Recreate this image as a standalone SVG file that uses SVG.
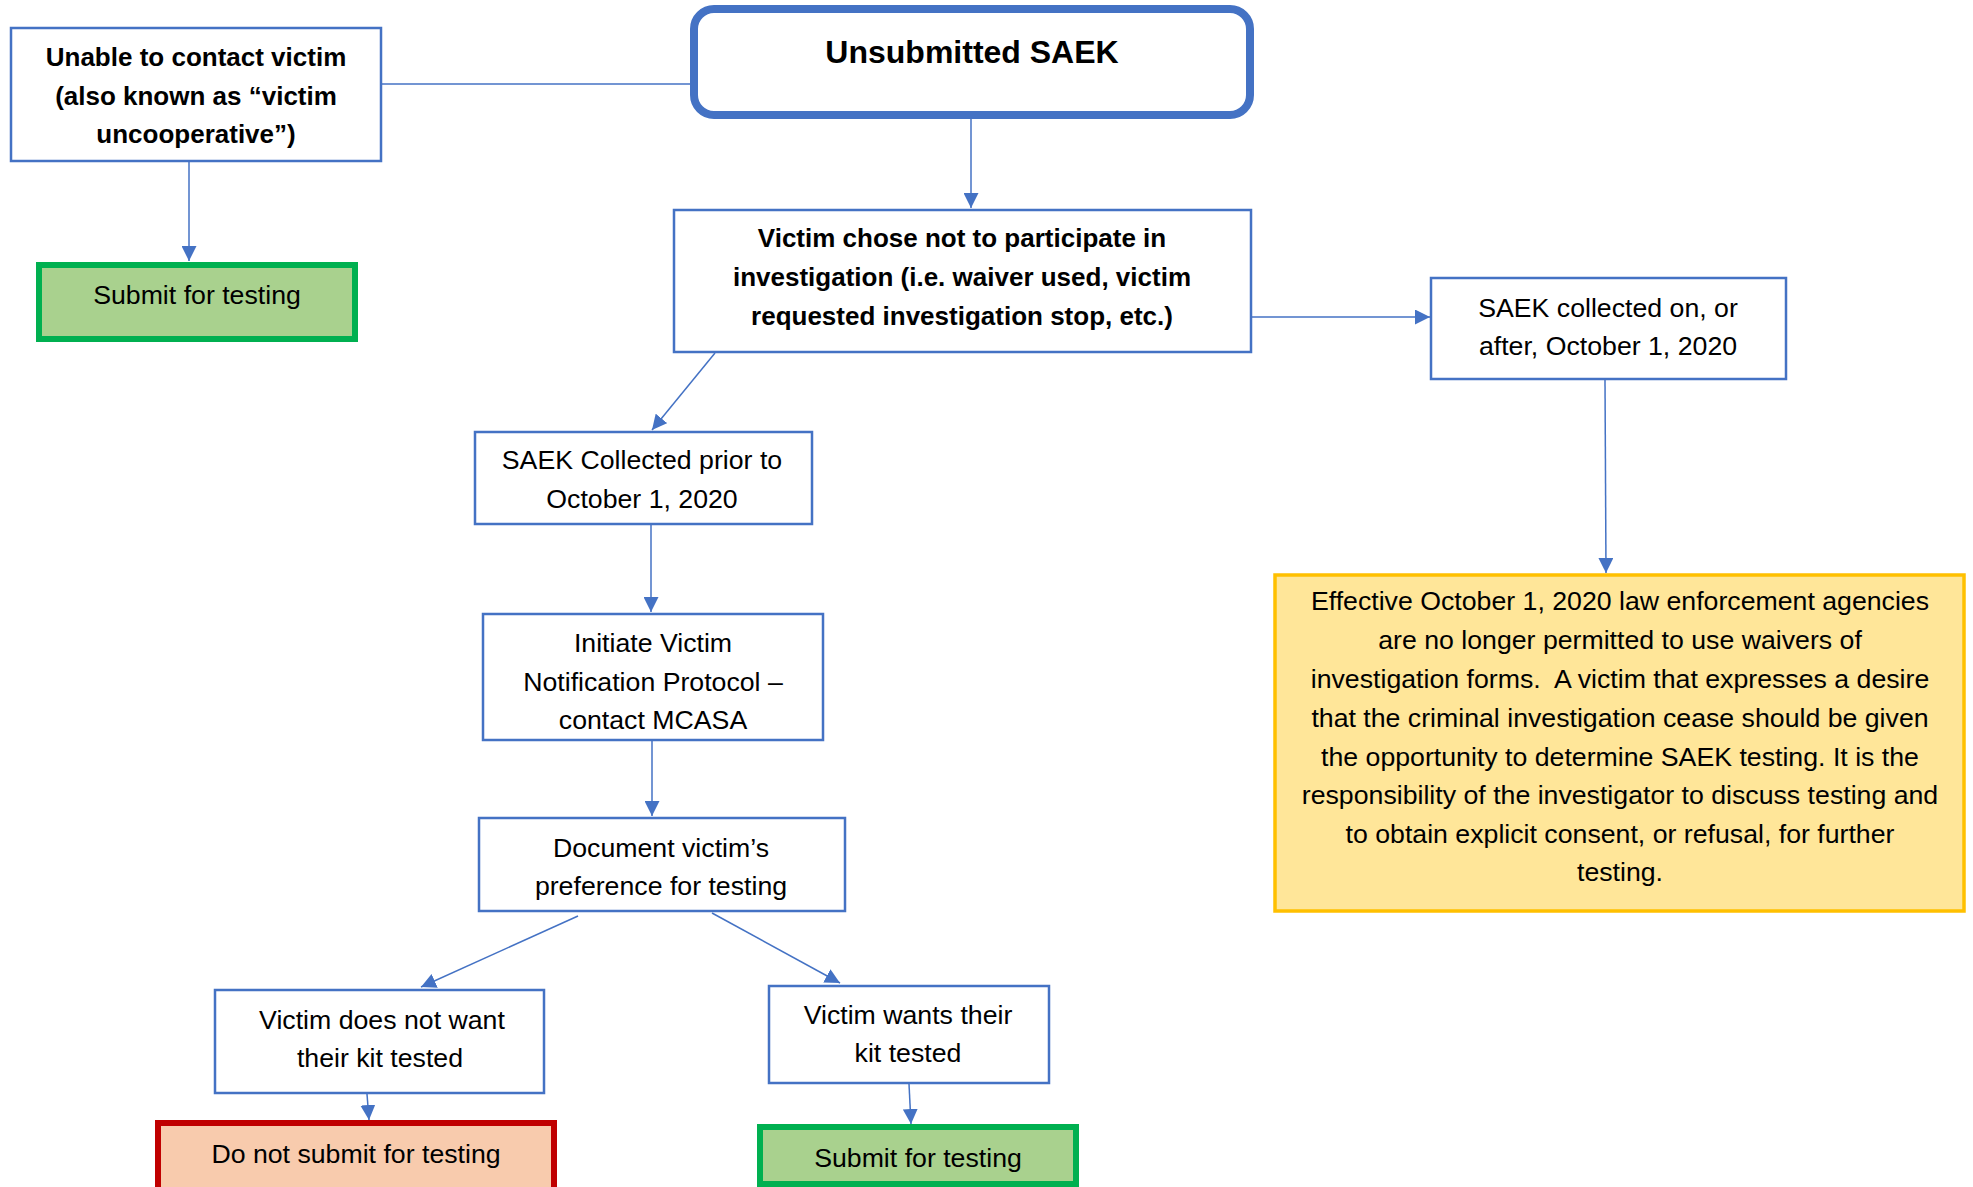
<svg xmlns="http://www.w3.org/2000/svg" width="1973" height="1187" viewBox="0 0 1973 1187">
<style>
.box{fill:#FFFFFF;stroke:#4472C4;stroke-width:2.5}
.green{fill:#A9D18E;stroke:#00B050;stroke-width:6}
.red{fill:#F8CBAD;stroke:#C00000;stroke-width:6}
.yellow{fill:#FFE699;stroke:#FFC000;stroke-width:3.5}
.title{fill:#FFFFFF;stroke:#4472C4;stroke-width:8}
text{font-family:"Liberation Sans",Arial,sans-serif;fill:#000000;text-anchor:middle}
.t{font-size:26.7px}
.b{font-size:26px;font-weight:bold}
.h{font-size:32px;font-weight:bold}
.c{stroke:#4472C4;stroke-width:1.5;fill:none}
.a{marker-end:url(#ah)}
</style>
<defs>
<marker id="ah" viewBox="0 0 15 15" refX="15" refY="7.5" markerWidth="15" markerHeight="15" markerUnits="userSpaceOnUse" orient="auto">
<path d="M0,0 L15,7.5 L0,15 z" fill="#4472C4"/>
</marker>
</defs>
<rect width="1973" height="1187" fill="#FFFFFF"/>

<g id="connectors">
<line class="c" x1="382" y1="84" x2="691" y2="84"/>
<line class="c a" x1="189" y1="162" x2="189" y2="261"/>
<line class="c a" x1="971" y1="119" x2="971" y2="208"/>
<line class="c a" x1="1251" y1="317" x2="1430" y2="317"/>
<line class="c a" x1="1605" y1="380" x2="1606" y2="573"/>
<line class="c a" x1="715" y1="353" x2="652" y2="430"/>
<line class="c a" x1="651" y1="525" x2="651" y2="612"/>
<line class="c a" x1="652" y1="741" x2="652" y2="816"/>
<line class="c a" x1="578" y1="916" x2="421" y2="987"/>
<line class="c a" x1="712" y1="913" x2="840" y2="983"/>
<line class="c a" x1="367" y1="1094" x2="369" y2="1120"/>
<line class="c a" x1="909" y1="1084" x2="911" y2="1124"/>
</g>

<g id="unable">
<rect class="box" x="11" y="28" width="370" height="133"/>
<text class="b" x="196" y="66">Unable to contact victim</text>
<text class="b" x="196" y="104.5">(also known as “victim</text>
<text class="b" x="196" y="143">uncooperative”)</text>
</g>

<g id="submit-top">
<rect class="green" x="39" y="265" width="316" height="74"/>
<text class="t" x="197" y="304">Submit for testing</text>
</g>

<g id="unsubmitted">
<rect class="title" x="694" y="9" width="556" height="106" rx="20" ry="20"/>
<text class="h" x="972" y="63">Unsubmitted SAEK</text>
</g>

<g id="victim-chose">
<rect class="box" x="674" y="210" width="577" height="142"/>
<text class="b" x="962" y="247">Victim chose not to participate in</text>
<text class="b" x="962" y="286">investigation (i.e. waiver used, victim</text>
<text class="b" x="962" y="325">requested investigation stop, etc.)</text>
</g>

<g id="saek-on-after">
<rect class="box" x="1431" y="278" width="355" height="101"/>
<text class="t" x="1608" y="317">SAEK collected on, or</text>
<text class="t" x="1608" y="355">after, October 1, 2020</text>
</g>

<g id="effective-note">
<rect class="yellow" x="1275" y="575" width="689" height="336"/>
<text class="t" x="1620" y="610">Effective October 1, 2020 law enforcement agencies</text>
<text class="t" x="1620" y="649">are no longer permitted to use waivers of</text>
<text class="t" x="1620" y="688" xml:space="preserve" style="white-space:pre">investigation forms.  A victim that expresses a desire</text>
<text class="t" x="1620" y="727">that the criminal investigation cease should be given</text>
<text class="t" x="1620" y="766">the opportunity to determine SAEK testing. It is the</text>
<text class="t" x="1620" y="804">responsibility of the investigator to discuss testing and</text>
<text class="t" x="1620" y="843">to obtain explicit consent, or refusal, for further</text>
<text class="t" x="1620" y="881">testing.</text>
</g>

<g id="saek-prior">
<rect class="box" x="475" y="432" width="337" height="92"/>
<text class="t" x="642" y="469">SAEK Collected prior to</text>
<text class="t" x="642" y="508">October 1, 2020</text>
</g>

<g id="initiate">
<rect class="box" x="483" y="614" width="340" height="126"/>
<text class="t" x="653" y="652">Initiate Victim</text>
<text class="t" x="653" y="691">Notification Protocol –</text>
<text class="t" x="653" y="729">contact MCASA</text>
</g>

<g id="document">
<rect class="box" x="479" y="818" width="366" height="93"/>
<text class="t" x="661" y="857">Document victim’s</text>
<text class="t" x="661" y="895">preference for testing</text>
</g>

<g id="does-not-want">
<rect class="box" x="215" y="990" width="329" height="103"/>
<text class="t" x="382" y="1029">Victim does not want</text>
<text class="t" x="380" y="1067">their kit tested</text>
</g>

<g id="wants">
<rect class="box" x="769" y="986" width="280" height="97"/>
<text class="t" x="908" y="1024">Victim wants their</text>
<text class="t" x="908" y="1062">kit tested</text>
</g>

<g id="do-not-submit">
<rect class="red" x="158" y="1123" width="396" height="80"/>
<text class="t" x="356" y="1163">Do not submit for testing</text>
</g>

<g id="submit-bottom">
<rect class="green" x="760" y="1127" width="316" height="57"/>
<text class="t" x="918" y="1167">Submit for testing</text>
</g>
</svg>
